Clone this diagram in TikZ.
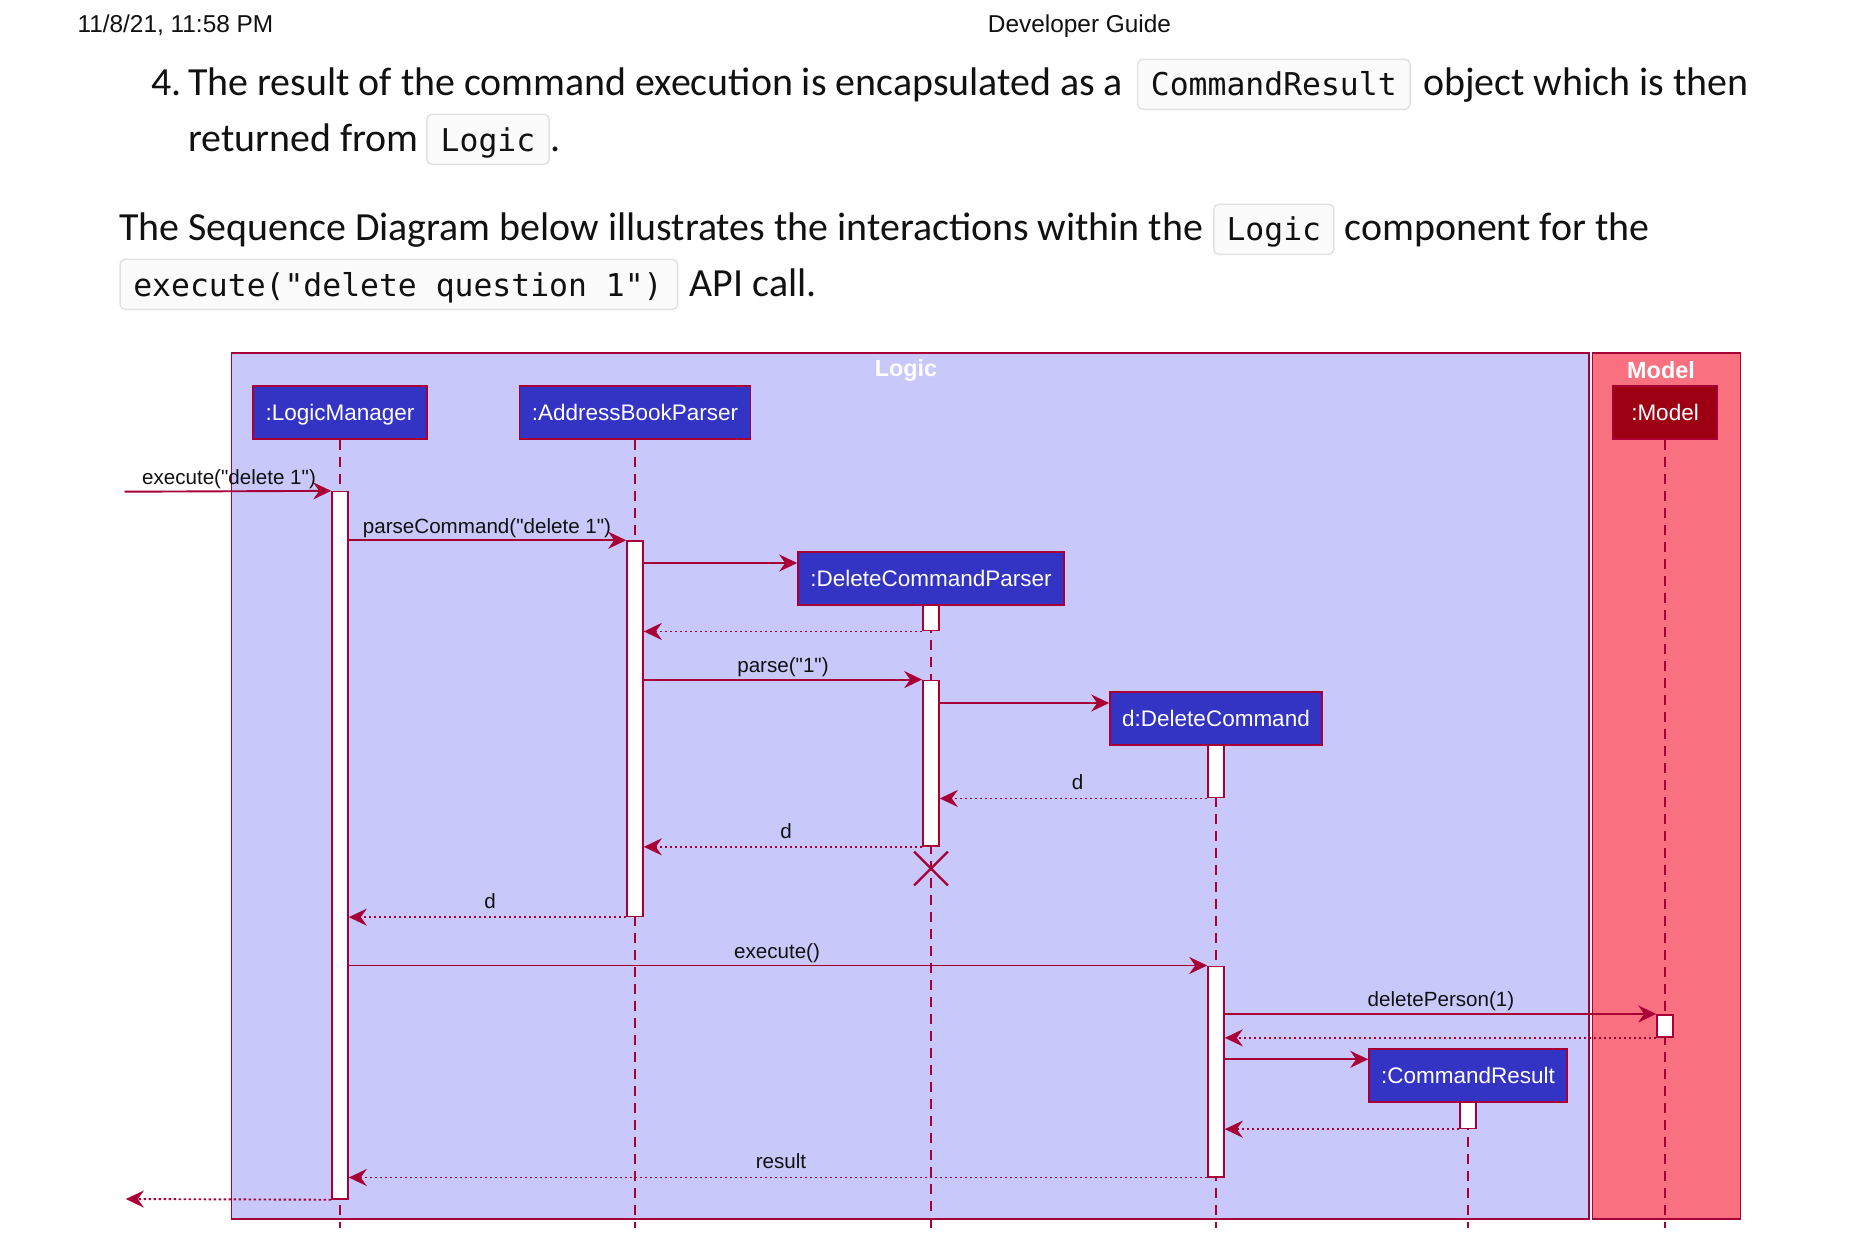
\documentclass[tikz,border=0pt]{standalone}
\usepackage{fontspec}
\setmainfont{Carlito}
\newfontfamily\arial{Liberation Sans}
\newfontfamily\mono{DejaVu Sans Mono}
\usetikzlibrary{arrows.meta,shapes.misc}
\pgfdeclarelayer{frm}
\pgfdeclarelayer{life}
\pgfsetlayers{frm,life,main}
\definecolor{pu}{HTML}{A80036}
\definecolor{logicT}{HTML}{C8C8FA}
\definecolor{logicC}{HTML}{3333C4}
\definecolor{modelT}{HTML}{F97181}
\definecolor{modelC}{HTML}{9D0012}
\definecolor{codeb}{HTML}{E2E2E2}
\definecolor{codef}{HTML}{FBFBFB}
\definecolor{ink}{HTML}{111111}
\begin{document}
\begin{tikzpicture}[x=1pt, y=-1pt,
  grp/.style={draw=pu, line width=1.6pt, inner sep=0pt, anchor=north west},
  pbox/.style={draw=pu, line width=1.6pt, fill=logicC, text=white, font=\arial\fontsize{22.5}{27}\selectfont, inner sep=0pt, minimum height=53pt, text height=16pt, text depth=0pt},
  act/.style={draw=pu, line width=1.6pt, fill=white, minimum width=16pt, inner sep=0pt},
  life/.style={draw=pu, line width=1.5pt, dash pattern=on 10pt off 7pt},
  msg/.style={draw=pu, line width=1.9pt, -{Stealth[length=18pt,width=17pt,inset=6pt]}},
  ret/.style={msg, dash pattern=on 2.5pt off 2.5pt},
  mlabel/.style={font=\arial\fontsize{20.6}{24}\selectfont, anchor=base, inner sep=0pt, text=ink},
  ftitle/.style={text=white, font=\arial\bfseries\fontsize{23.4}{28}\selectfont, inner sep=0pt},
  body/.style={anchor=base west, inner sep=0pt, text=ink, font=\fontsize{39.9}{48}\selectfont},
  codebox/.style={draw=codeb, line width=1.5pt, fill=codef, rounded corners=5pt, minimum height=50pt, inner sep=0pt},
  codet/.style={font=\mono\fontsize{31.4}{38}\selectfont, anchor=base, inner sep=0pt, text=ink},
  hdr/.style={font=\arial\fontsize{24.4}{29}\selectfont, inner sep=0pt, text=ink}
]
\useasboundingbox (0,0) rectangle (1864,1244);
\begin{pgfonlayer}{frm}
\fill[white] (0,0) rectangle (1864,1244);
\node[grp, fill=logicT, minimum width=1357.2pt, minimum height=866pt] (logicF) at (230.8,352) {};
\node[grp, fill=modelT, minimum width=148pt, minimum height=866pt] (modelF) at (1591.5,352) {};
\end{pgfonlayer}

% header and text
\node[hdr, anchor=base west] (date) at (77.3,32.3) {11/8/21, 11:58 PM};
\node[hdr, anchor=base] (ptitle) at (1079.5,32.3) {Developer Guide};

\node[body] (n4) at (151,96) {4.};
\node[body] (t1a) at (188,96) {The result of the command execution is encapsulated as a};
\node[codebox, minimum width=272.4pt] (c1) at (1273.8,84.3) {};
\node[codet] (c1t) at (1273.8,96) {CommandResult};
\node[body] (t1b) at (1423,96) {object which is then};
\node[body] (t2a) at (187.8,152) {returned from};
\node[codebox, minimum width=122.4pt] (c2) at (488,139.3) {};
\node[codet] (c2t) at (488,152) {Logic};
\node[body] (t2b) at (550.4,152) {.};
\node[body] (t3a) at (118.9,240.7) {The Sequence Diagram below illustrates the interactions within the};
\node[codebox, minimum width=120.1pt] (c3) at (1273.8,229.3) {};
\node[codet] (c3t) at (1273.8,240.7) {Logic};
\node[body] (t3b) at (1344.5,240.7) {component for the};
\node[codebox, minimum width=557.6pt] (c4) at (398.8,284.3) {};
\node[codet] (c4t) at (398,296.7) {execute("delete question 1")};
\node[body] (t4b) at (689.5,296.7) {API call.};

% frame titles
\node[ftitle] (logicTitle) at (906,370) {Logic};
\node[ftitle] (modelTitle) at (1661,370) {Model};

% participants
\node[pbox, minimum width=174.5pt] (lm) at (340,412.5) {:LogicManager};
\node[pbox, minimum width=231pt] (abp) at (635,412.5) {:AddressBookParser};
\node[pbox, minimum width=266pt] (dcp) at (931,578.5) {:DeleteCommandParser};
\node[pbox, minimum width=212pt] (dc) at (1216,718.5) {d:DeleteCommand};
\node[pbox, minimum width=198pt] (cr) at (1468,1075.5) {:CommandResult};
\node[pbox, minimum width=104pt, fill=modelC] (mdl) at (1665,412.5) {:Model};

% activations
\node[act, minimum height=707.3pt] (lmA) at (340,845.3) {};
\node[act, minimum height=375.3pt] (abpA) at (635,728.7) {};
\node[act, minimum height=25.7pt] (dcpA1) at (931,617.8) {};
\node[act, minimum height=165.7pt] (dcpA2) at (931,763.2) {};
\node[act, minimum height=52.7pt] (dcA1) at (1216,771.3) {};
\node[act, minimum height=210.4pt] (dcA2) at (1216,1071.5) {};
\node[act, minimum height=22.3pt] (mA) at (1665,1025.9) {};
\node[act, minimum height=26.3pt] (crA) at (1468,1115.2) {};

% lifelines
\coordinate (bot) at (0,1228);
\begin{pgfonlayer}{life}
\draw[life] (lm.south) -- (lm.south |- bot);
\draw[life] (abp.south) -- (abp.south |- bot);
\draw[life] (dcp.south) -- (dcp.south |- bot);
\draw[life] (dc.south) -- (dc.south |- bot);
\draw[life] (cr.south) -- (cr.south |- bot);
\draw[life] (mdl.south) -- (mdl.south |- bot);
\end{pgfonlayer}

% messages
\coordinate (entry) at (124.5,491.7);
\draw[msg] (entry) -- (lmA.north west);
\node[mlabel] (l1) at (229,484) {execute("delete 1")};

\draw[msg] (lmA.east |- abpA.north) -- (abpA.north west);
\node[mlabel] (l2) at (487,533) {parseCommand("delete 1")};

\coordinate (r3) at (0,563);
\draw[msg] (abpA.east |- r3) -- (dcp.west |- r3);

\draw[ret] (dcpA1.south west) -- (abpA.east |- dcpA1.south);

\draw[msg] (abpA.east |- dcpA2.north) -- (dcpA2.north west);
\node[mlabel] (l5) at (783,672.3) {parse("1")};

\coordinate (r6) at (0,703);
\draw[msg] (dcpA2.east |- r6) -- (dc.west |- r6);

\draw[ret] (dcA1.south west) -- (dcpA2.east |- dcA1.south);
\node[mlabel] (l7) at (1077.6,789.7) {d};

\draw[ret] (dcpA2.south west) -- (abpA.east |- dcpA2.south);
\node[mlabel] (l8) at (786,838) {d};

\node[cross out, draw=pu, line width=2.2pt, minimum size=31.6pt, inner sep=0pt] (xk) at (931,868.5) {};

\draw[ret] (abpA.south west) -- (lmA.east |- abpA.south);
\node[mlabel] (l10) at (490,908.3) {d};

\draw[msg] (lmA.east |- dcA2.north) -- (dcA2.north west);
\node[mlabel] (l11) at (777,958.3) {execute()};

\draw[msg] (dcA2.east |- mA.north) -- (mA.north west);
\node[mlabel] (l12) at (1441,1006.7) {deletePerson(1)};

\draw[ret] (mA.south west) -- (dcA2.east |- mA.south);

\coordinate (r14) at (0,1059.3);
\draw[msg] (dcA2.east |- r14) -- (cr.west |- r14);

\draw[ret] (crA.south west) -- (dcA2.east |- crA.south);

\draw[ret] (dcA2.south west) -- (lmA.east |- dcA2.south);
\node[mlabel] (l16) at (781,1168.7) {result};

\coordinate (exit) at (125.8,1199);
\draw[ret] (lmA.south west) -- (exit);
\end{tikzpicture}
\end{document}
